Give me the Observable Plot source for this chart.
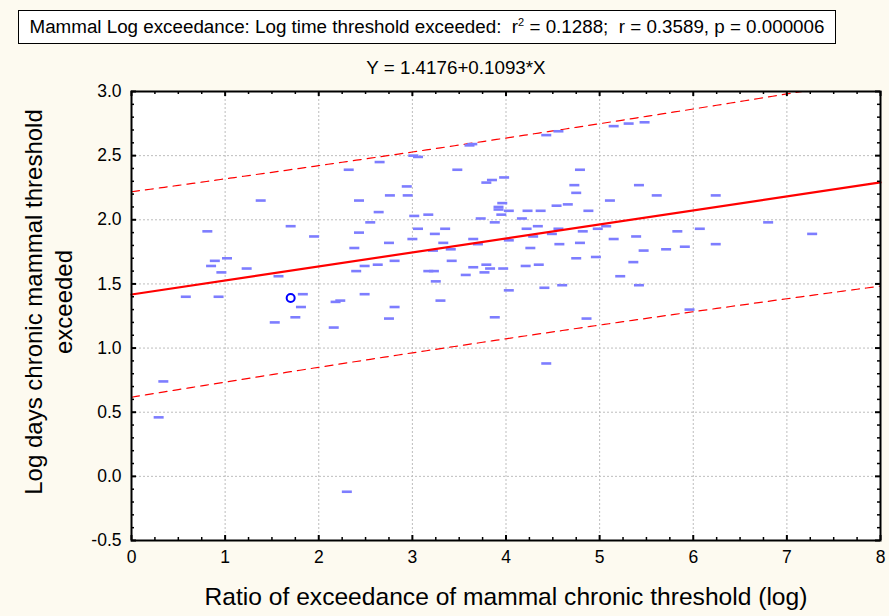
<!DOCTYPE html>
<html>
<head>
<meta charset="utf-8">
<script src="https://cdn.jsdelivr.net/npm/d3@7"></script>
<script src="https://cdn.jsdelivr.net/npm/@observablehq/plot@0.6"></script>
<style>
  html, body { margin: 0; padding: 0; background: #fdfaf0; }
  body { width: 889px; height: 616px; overflow: hidden; font-family: "Liberation Sans", Arial, sans-serif; }
  #head { position: relative; height: 80px; }
  #title {
    position: absolute; left: 18px; top: 10px; width: 818px; height: 34px;
    border: 1px solid #000; background: #fff; box-sizing: border-box;
    font-size: 18.8px; line-height: 32px; text-align: center; color: #000; white-space: nowrap;
  }
  #title sup { font-size: 11px; line-height: 0; }
  #sub { position: absolute; left: 0; width: 912px; top: 57px; text-align: center; font-size: 18.8px; color: #000; }
  #chart svg { display: block; background: transparent; }
</style>
</head>
<body>
<div id="head">
  <div id="title"></div>
  <div id="sub"></div>
</div>
<div id="chart"></div>
<script>
// Regression statistics reported for the fit
const intercept = 1.4176;
const slope = 0.1093;
const rSquared = "0.1288";
const rValue = "0.3589";
const pValue = "0.000006";
// Residual standard error of the fit (sets the width of the prediction band)
const residualSE = 0.394;

// Ratio of exceedance (log) for each observation
const ratioLog = [
  0.29, 0.34, 0.58, 0.93, 0.81, 0.85, 0.89, 1.02, 0.96, 1.23,
  1.38, 1.57, 1.70, 1.95, 1.83, 1.81, 1.75, 1.53, 2.16, 2.18,
  2.23, 2.30, 2.32, 2.43, 2.43, 2.55, 2.64, 2.65, 2.38, 2.40,
  2.49, 2.49, 2.63, 3.01, 3.06, 3.48, 3.61, 3.64, 3.79, 3.85,
  3.98, 2.94, 2.76, 2.95, 3.02, 3.17, 3.06, 3.24, 3.35, 2.75,
  3.00, 3.33, 3.65, 3.70, 3.73, 3.88, 3.92, 3.92, 3.96, 3.95,
  4.03, 4.17, 4.23, 4.37, 4.22, 4.34, 4.03, 4.29, 4.49, 4.56,
  4.57, 4.79, 4.82, 4.54, 4.66, 4.88, 5.11, 4.73, 4.75, 4.79,
  4.43, 4.56, 5.15, 5.31, 5.48, 4.98, 5.07, 5.15, 5.42, 5.61,
  6.24, 5.39, 5.83, 6.07, 6.80, 7.27, 5.91, 6.24, 5.22, 5.36,
  5.47, 5.71, 5.42, 5.96, 3.22, 3.41, 4.26, 2.81, 3.17, 3.23,
  3.42, 3.65, 3.79, 3.57, 3.77, 3.83, 3.97, 4.21, 4.35, 4.75,
  4.96, 3.25, 4.03, 4.41, 4.60, 3.30, 2.81, 2.75, 3.88, 4.86,
  4.43
];

// Log days the chronic mammal threshold was exceeded
const logDays = [
  0.46, 0.74, 1.40, 1.40, 1.91, 1.64, 1.68, 1.70, 1.59, 1.62,
  2.15, 1.56, 1.95, 1.87, 1.42, 1.32, 1.24, 1.20, 1.16, 1.36,
  1.37, -0.12, 2.39, 2.15, 1.90, 1.98, 2.06, 2.45, 1.78, 1.60,
  1.64, 1.42, 1.65, 2.50, 2.49, 2.39, 2.58, 2.59, 2.29, 2.31,
  2.33, 2.26, 2.19, 2.19, 2.03, 2.04, 1.93, 1.89, 1.93, 1.82,
  1.85, 1.82, 1.85, 1.81, 2.01, 1.98, 2.10, 2.08, 2.13, 2.04,
  2.07, 2.01, 2.07, 2.07, 1.93, 1.95, 1.84, 1.87, 1.89, 1.93,
  1.81, 1.82, 1.91, 2.11, 2.12, 2.07, 2.15, 2.27, 2.21, 2.39,
  2.66, 2.69, 2.73, 2.75, 2.76, 1.93, 1.95, 1.85, 2.27, 2.19,
  2.19, 1.87, 1.91, 1.93, 1.98, 1.89, 1.79, 1.81, 1.56, 1.67,
  1.76, 1.77, 1.49, 1.30, 1.76, 1.77, 1.78, 1.68, 1.60, 1.60,
  1.68, 1.63, 1.65, 1.57, 1.59, 1.62, 1.62, 1.64, 1.65, 1.70,
  1.71, 1.52, 1.45, 1.47, 1.49, 1.37, 1.32, 1.23, 1.24, 1.23,
  0.88
];

// Highlighted observation
const markedX = [1.70];
const markedY = [1.39];

// Axis ticks
const xMajor = [0, 1, 2, 3, 4, 5, 6, 7, 8];
const yMajor = [-0.5, 0.0, 0.5, 1.0, 1.5, 2.0, 2.5, 3.0];
const xGrid = [1, 2, 3, 4, 5, 6, 7];
const yGrid = [0.0, 0.5, 1.0, 1.5, 2.0, 2.5];
const xMinor = d3.range(0, 8.001, 0.25).filter(v => Math.abs(v - Math.round(v)) > 1e-6);
const yMinor = d3.range(-0.5, 3.001, 0.1).filter(v => Math.abs(v * 2 - Math.round(v * 2)) > 1e-6);

const xLabel = "Ratio of exceedance of mammal chronic threshold (log)";
const yLabel = "Log days chronic mammal threshold\nexceeded";

document.getElementById("title").innerHTML =
  `Mammal Log exceedance: Log time threshold exceeded:&nbsp; r<sup>2</sup> = ${rSquared};&nbsp; r = ${rValue}, p = ${pValue}`;
document.getElementById("sub").textContent = `Y = ${intercept}+${slope}*X`;

const points = ratioLog.map((x, i) => ({x, y: logDays[i]}));
const marked = markedX.map((x, i) => ({x, y: markedY[i]}));

// 95% prediction band around the fitted line
const allX = ratioLog.concat(markedX);
const n = allX.length;
const xbar = d3.mean(allX);
const sxx = d3.sum(allX, x => (x - xbar) ** 2);
const tCrit = 1.978;
const fit = x => intercept + slope * x;
const halfWidth = x => tCrit * residualSE * Math.sqrt(1 + 1 / n + (x - xbar) ** 2 / sxx);
const curveX = d3.range(0, 8.0001, 0.05);
const upper = curveX.map(x => ({x, y: fit(x) + halfWidth(x)}));
const lower = curveX.map(x => ({x, y: fit(x) - halfWidth(x)}));
const fitLine = [0, 8].map(x => ({x, y: fit(x)}));

// Short horizontal dash used as the point symbol
const dash = {
  draw(context, size) {
    const w = Math.sqrt(size / Math.PI);
    context.moveTo(-w, 0);
    context.lineTo(w, 0);
  }
};

const W = 889, H = 536;
const mL = 131, mR = 9, mT = 11, mB = 76;
const fw = W - mL - mR, fh = H - mT - mB;

const chart = Plot.plot({
  width: W,
  height: H,
  marginLeft: mL,
  marginRight: mR,
  marginTop: mT,
  marginBottom: mB,
  style: {fontFamily: "'Liberation Sans', Arial, sans-serif", color: "#000", background: "transparent"},
  x: {domain: [0, 8]},
  y: {domain: [-0.5, 3.0]},
  marks: [
    Plot.frame({fill: "#fff", stroke: null}),
    Plot.ruleX(xGrid, {stroke: "#bdbdbd", strokeWidth: 1, strokeDasharray: "2,2"}),
    Plot.ruleY(yGrid, {stroke: "#bdbdbd", strokeWidth: 1, strokeDasharray: "2,2"}),
    Plot.line(upper, {x: "x", y: "y", stroke: "#ff0000", strokeWidth: 1.2, strokeDasharray: "8,6", clip: true}),
    Plot.line(lower, {x: "x", y: "y", stroke: "#ff0000", strokeWidth: 1.2, strokeDasharray: "8,6", clip: true}),
    Plot.dot(points, {x: "x", y: "y", symbol: dash, r: 5, stroke: "#7d7dff", strokeWidth: 2.6, fill: "none"}),
    Plot.line(fitLine, {x: "x", y: "y", stroke: "#ff0000", strokeWidth: 2.2}),
    Plot.dot(marked, {x: "x", y: "y", r: 4, stroke: "#0000ff", strokeWidth: 2, fill: "#fff"}),
    // inward tick marks on all four sides
    Plot.ruleY(yMinor, {insetRight: fw - 3, stroke: "#000", strokeWidth: 1.5}),
    Plot.ruleY(yMajor, {insetRight: fw - 5, stroke: "#000", strokeWidth: 2}),
    Plot.ruleY(yMinor, {insetLeft: fw - 3, stroke: "#000", strokeWidth: 1.5}),
    Plot.ruleY(yMajor, {insetLeft: fw - 5, stroke: "#000", strokeWidth: 2}),
    Plot.ruleX(xMinor, {insetTop: fh - 3, stroke: "#000", strokeWidth: 1.5}),
    Plot.ruleX(xMajor, {insetTop: fh - 5, stroke: "#000", strokeWidth: 2}),
    Plot.ruleX(xMinor, {insetBottom: fh - 3, stroke: "#000", strokeWidth: 1.5}),
    Plot.ruleX(xMajor, {insetBottom: fh - 5, stroke: "#000", strokeWidth: 2}),
    Plot.frame({stroke: "#000", strokeWidth: 2}),
    Plot.axisY(yMajor, {tickSize: 0, tickPadding: 10, fontSize: 17.5, tickFormat: d => d.toFixed(1), label: null}),
    Plot.axisX(xMajor, {tickSize: 0, tickPadding: 10, fontSize: 17.5, tickFormat: d => String(d), label: null}),
    Plot.text([xLabel], {frameAnchor: "bottom", dy: 64, fontSize: 24.6, fill: "#000"}),
    Plot.text([yLabel], {frameAnchor: "left", textAnchor: "middle", dx: -84, dy: -14, rotate: -90, fontSize: 24, lineHeight: 1.25, fill: "#000"})
  ]
});

document.getElementById("chart").appendChild(chart);
</script>
</body>
</html>
